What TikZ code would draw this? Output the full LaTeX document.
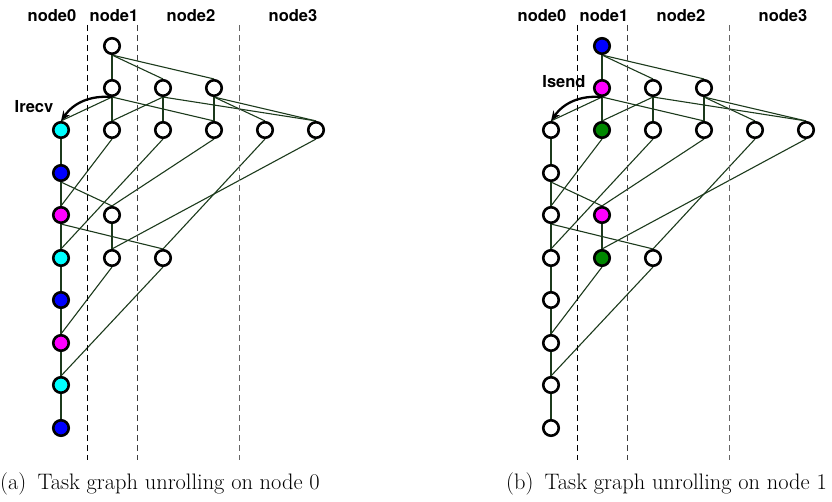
\documentclass[tikz,border=0pt]{standalone}
\usepackage{fontspec}
\usetikzlibrary{arrows.meta,backgrounds}
\newfontfamily\heros{TeX Gyre Heros}
\definecolor{depgreen}{RGB}{28,58,28}
\definecolor{taskgreen}{RGB}{0,136,0}
\definecolor{taskcyan}{RGB}{0,255,255}
\definecolor{taskblue}{RGB}{0,0,255}
\definecolor{taskmagenta}{RGB}{255,0,255}
\tikzset{
  task/.style={circle,draw=black,line width=2.6pt,minimum size=15.5pt,inner sep=0pt,fill=white},
  dep/.style={draw=depgreen,line width=1.1pt},
  chain/.style={draw=depgreen,line width=2pt},
  partline/.style={dash pattern=on 6pt off 4pt,line width=0.9pt},
  rank/.style={font=\heros\bfseries\fontsize{16.5}{18}\selectfont,anchor=base,inner sep=0pt},
  msg/.style={-{Stealth[length=10pt,width=8pt]},line width=2.3pt},
  subcap/.style={font=\fontsize{22.4}{26}\selectfont,anchor=base west,inner sep=0pt}
}
\begin{document}
\begin{tikzpicture}[x=1pt,y=-1pt]
\useasboundingbox (0,0) rectangle (832,502);

% panel (a): unrolling on node 0
\draw[partline,black] (87,25) -- (87,460);
\draw[partline,black!75] (137,25) -- (137,460);
\draw[partline,black!60] (239,25) -- (239,460);
\node[rank] (al0) at (52,21.5) {node0};
\node[rank] (al1) at (114,21.5) {node1};
\node[rank] (al2) at (191,21.5) {node2};
\node[rank] (al3) at (293,21.5) {node3};

\node[task] (a01) at (112,46) {};
\node[task] (a11) at (112,88) {};
\node[task] (a12) at (163,88) {};
\node[task] (a13) at (214,88) {};
\foreach \c/\x in {1/112,2/163,3/214,4/265,5/316}
  \node[task] (a2\c) at (\x,130) {};
\foreach \r/\y/\col in {2/130/taskcyan,3/173/taskblue,4/215/taskmagenta,5/258/taskcyan,6/300/taskblue,7/343/taskmagenta,8/385/taskcyan,9/428/taskblue}
  \node[task,fill=\col] (a\r0) at (61,\y) {};
\node[task] (a41) at (112,215) {};
\node[task] (a51) at (112,258) {};
\node[task] (a52) at (163,258) {};

\draw[msg] (a11.south) to[bend right=30] (a20.north);
\node[rank] (arecv) at (34,113) {Irecv};

% panel (b): unrolling on node 1
\begin{scope}[xshift=490pt]
\draw[partline,black] (87,25) -- (87,460);
\draw[partline,black!75] (137,25) -- (137,460);
\draw[partline,black!60] (239,25) -- (239,460);
\node[rank] (bl0) at (52,21.5) {node0};
\node[rank] (bl1) at (114,21.5) {node1};
\node[rank] (bl2) at (191,21.5) {node2};
\node[rank] (bl3) at (293,21.5) {node3};

\node[task,fill=taskblue] (b01) at (112,46) {};
\node[task,fill=taskmagenta] (b11) at (112,88) {};
\node[task] (b12) at (163,88) {};
\node[task] (b13) at (214,88) {};
\node[task,fill=taskgreen] (b21) at (112,130) {};
\foreach \c/\x in {2/163,3/214,4/265,5/316}
  \node[task] (b2\c) at (\x,130) {};
\foreach \r/\y in {2/130,3/173,4/215,5/258,6/300,7/343,8/385,9/428}
  \node[task] (b\r0) at (61,\y) {};
\node[task,fill=taskmagenta] (b41) at (112,215) {};
\node[task,fill=taskgreen] (b51) at (112,258) {};
\node[task] (b52) at (163,258) {};

\draw[msg] (b11.south) to[bend right=30] (b20.north);
\node[rank] (bsend) at (74,88) {Isend};
\end{scope}

% dependencies, same in both panels
\begin{scope}[on background layer]
\foreach \p in {a,b}{
  \foreach \s/\t in {01/11,11/21,12/22,13/23,20/30,30/40,40/50,50/60,60/70,70/80,80/90,41/51}
    \draw[chain] (\p\s.south) -- (\p\t.north);
  \foreach \s/\t in {01/12,01/13,11/20,11/23,12/21,12/25,13/24,13/25,21/40,22/50,23/41,24/52,25/51,30/41,40/52,51/70,52/80}
    \draw[dep] (\p\s.south) -- (\p\t.north);
}
\end{scope}

\node[subcap] (acap) at (0,489) {(a)\hspace{0.5em}Task graph unrolling on node 0};
\node[subcap] (bcap) at (506,489) {(b)\hspace{0.5em}Task graph unrolling on node 1};
\end{tikzpicture}
\end{document}
